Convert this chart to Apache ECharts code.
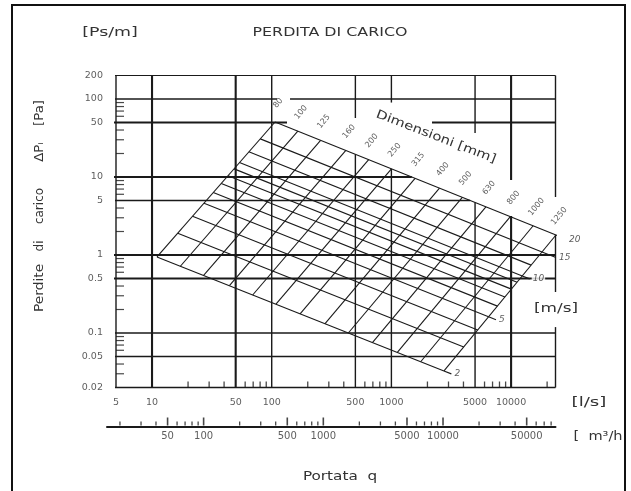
<!DOCTYPE html>
<html><head><meta charset="utf-8">
<script src="https://cdn.jsdelivr.net/npm/echarts@6/dist/echarts.min.js"></script>
<style>html,body{margin:0;padding:0;background:#fff}#c{width:631px;height:491px}</style>
</head><body><div id="c"></div>
<script>
// ---------------- data ----------------
const yTickLabels = [200, 100, 50, 10, 5, 1, 0.5, 0.1, 0.05, 0.02];
const yMinorTicks = [90, 80, 70, 60, 40, 30, 20, 9, 8, 7, 6, 4, 3, 2, 0.9, 0.8, 0.7, 0.6, 0.4, 0.3, 0.2, 0.09, 0.08, 0.07, 0.06, 0.04, 0.03];
const lsTickLabels = [5, 10, 50, 100, 500, 1000, 5000, 10000];
const lsMinorTicks = [20, 30, 40, 60, 70, 80, 90, 200, 300, 400, 600, 700, 800, 900, 2000, 3000, 4000, 6000, 7000, 8000, 9000, 20000];
const m3hTickLabels = [50, 100, 500, 1000, 5000, 10000, 50000];
const m3hMinorTicks = [20, 30, 40, 60, 70, 80, 90, 200, 300, 400, 600, 700, 800, 900, 2000, 3000, 4000, 6000, 7000, 8000, 9000, 20000, 30000, 40000, 60000, 70000, 80000];

// velocity lines [m/s]: ends on the 80 mm line (left) and on the 1250 mm line (right)
const velocities = [2, 3, 4, 5, 6, 7, 8, 9, 10, 12, 15, 20];
const velLeftQ  = [11.0, 16.4, 21.8, 27.2, 32.5, 37.9, 43.2, 48.5, 53.8, 64.4, 80.3, 106.6];
const velLeftR  = [0.943, 1.90, 3.13, 4.60, 6.31, 8.24, 10.4, 12.7, 15.3, 21.0, 30.8, 50.7];
const velRightQ = [2750, 4020, 5260, 6480, 7690, 8880, 10060, 11230, 12400, 14710, 18130, 23710];
const velRightR = [0.0326, 0.0660, 0.109, 0.161, 0.221, 0.289, 0.365, 0.448, 0.539, 0.741, 1.093, 1.805];
// labelled velocities and the end of their leaders
const velLabels = [2, 5, 10, 15, 20];
const velLabelQ = [3170, 7480, 14290, 23700, 28770];
const velLabelR = [0.0299, 0.1475, 0.494, 0.926, 1.58];

// duct diameters [mm]: ends on the 2 m/s line (bottom) and on the 20 m/s line (top)
const diameters  = [80, 100, 125, 160, 200, 250, 315, 400, 500, 630, 800, 1000, 1250];
const diaBottomQ = [11.0, 17.24, 26.97, 44.3, 69.3, 108.5, 172.6, 278.9, 436.5, 694.0, 1121, 1756, 2750];
const diaBottomR = [0.943, 0.717, 0.546, 0.404, 0.307, 0.234, 0.176, 0.1315, 0.100, 0.0754, 0.0563, 0.0428, 0.0326];
const diaTopQ    = [106.6, 165.3, 256.2, 416.4, 645.7, 1001, 1577, 2522, 3912, 6160, 9854, 15290, 23710];
const diaTopR    = [50.7, 38.7, 29.5, 21.9, 16.7, 12.7, 9.61, 7.19, 5.49, 4.15, 3.10, 2.37, 1.805];

// horizontal grid segments: [R, q from, q to]
const hGrid = [
  [200, 4.21, 23500],
  [100, 4.21, 110.7], [100, 142.2, 23500],
  [50, 4.21, 134.2], [50, 2184, 23500],
  [10, 4.21, 1480],
  [5, 4.21, 4550],
  [1, 4.21, 23500],
  [0.5, 4.21, 23500],
  [0.1, 4.21, 23500],
  [0.05, 4.21, 23500],
  [0.02, 4.21, 23500]
];
// vertical grid segments: [q, R from, R to]
const vGrid = [
  [5, 0.02, 200],
  [10, 0.02, 200],
  [50, 0.02, 200],
  [100, 0.02, 200],
  [500, 57, 200], [500, 0.02, 19.5],
  [1000, 90, 200], [1000, 0.02, 12.7],
  [5000, 36.6, 200], [5000, 0.02, 4.72],
  [10000, 9.15, 200], [10000, 0.02, 3.16],
  [23500, 5.54, 200], [23500, 0.335, 1.805], [23500, 0.02, 0.119]
];
const hBold = [50, 10, 1, 0.5];
const vBold = [10, 50, 10000];

// ---------------- chart ----------------
const FONT = 'DejaVu Sans';
const INK = '#1a1a1a';
const TXT = '#333';
const series = [];
function seg(pts, w, z) {
  series.push({type: 'line', data: pts, symbol: 'none', clip: false, silent: true,
    xAxisIndex: 0, yAxisIndex: 0, z: z,
    lineStyle: {width: w, color: INK}});
}
hGrid.forEach(h => {
  const w = hBold.includes(h[0]) ? 2.1 : (h[0] === 200 ? 1.0 : 1.4);
  seg([[h[1], h[0]], [h[2], h[0]]], w, 1);
});
vGrid.forEach(v => {
  const w = vBold.includes(v[0]) ? 2.1 : 1.4;
  seg([[v[0], v[1]], [v[0], v[2]]], w, 1);
});
velocities.forEach((v, i) => seg([[velLeftQ[i], velLeftR[i]], [velRightQ[i], velRightR[i]]], 1.1, 2));
diameters.forEach((d, i) => seg([[diaBottomQ[i], diaBottomR[i]], [diaTopQ[i], diaTopR[i]]], 1.1, 2));
velLabels.forEach((v, k) => {
  const i = velocities.indexOf(v);
  seg([[velRightQ[i], velRightR[i]], [velLabelQ[k], velLabelR[k]]], 1.1, 2);
});

function tickSeries(data, size, offset, xi, yi) {
  series.push({type: 'scatter', xAxisIndex: xi, yAxisIndex: yi, data: data, symbol: 'rect',
    symbolSize: size, symbolOffset: offset, silent: true, clip: false, z: 3,
    itemStyle: {color: INK}});
}
tickSeries(yMinorTicks.map(v => [5, v]), [8, 1.2], [4, 0], 0, 0);
tickSeries(lsMinorTicks.map(q => [q, 0.02]), [1.3, 6], [0, -3], 0, 0);
tickSeries(m3hMinorTicks.map(q => [q, 0]), [1.3, 4], [0, -3], 1, 1);
tickSeries(m3hTickLabels.map(q => [q, 0]), [1.6, 8], [0, -5], 1, 1);

function labelSeries(data, label, xi, yi) {
  series.push({type: 'scatter', xAxisIndex: xi, yAxisIndex: yi, data: data, symbolSize: 0.1,
    silent: true, clip: false, z: 5, itemStyle: {color: 'rgba(0,0,0,0)'},
    label: Object.assign({show: true, formatter: '{b}', color: TXT, fontFamily: FONT}, label)});
}
labelSeries(yTickLabels.map(v => ({value: [5, v], name: String(v)})),
  {position: 'left', distance: 13, fontSize: 9.5}, 0, 0);
labelSeries(lsTickLabels.map(q => ({value: [q, 0.02], name: String(q)})),
  {position: 'bottom', distance: 10, fontSize: 9.5}, 0, 0);
labelSeries(m3hTickLabels.map(q => ({value: [q, 0], name: String(q)})),
  {position: 'bottom', distance: 5, fontSize: 10}, 1, 1);
labelSeries(diameters.map((d, i) => ({value: [diaTopQ[i], diaTopR[i]], name: String(d)})),
  {position: 'top', distance: 15, rotate: 50, align: 'center', verticalAlign: 'middle', offset: [5, 0], fontSize: 8}, 0, 0);
labelSeries(velLabels.map((v, k) => ({value: [velLabelQ[k], velLabelR[k]], name: String(v)})),
  {position: 'right', distance: 2, fontSize: 9, fontStyle: 'italic', backgroundColor: '#fff', padding: [0, 1]}, 0, 0);

function txt(s, x, y, size, sx, rot) {
  return {type: 'text', x: x, y: y, rotation: rot || 0, scaleX: sx || 1, silent: true, z: 10,
    style: {text: s, fontSize: size, fontFamily: FONT, fill: TXT,
      align: 'center', verticalAlign: 'middle', textAlign: 'center', textVerticalAlign: 'middle'}};
}

const chart = echarts.init(document.getElementById('c'), null, {renderer: 'canvas'});
chart.setOption({
  animation: false,
  backgroundColor: '#fff',
  grid: [
    {left: 116, top: 75.5, width: 439.5, height: 312},
    {left: 107, top: 410, width: 448.5, height: 16.5}
  ],
  xAxis: [
    {type: 'log', gridIndex: 0, min: 5, max: 23500, show: false},
    {type: 'log', gridIndex: 1, min: 15.59, max: 87030,
      axisLine: {show: true, lineStyle: {color: INK, width: 2}},
      axisTick: {show: false}, axisLabel: {show: false}, splitLine: {show: false}}
  ],
  yAxis: [
    {type: 'log', gridIndex: 0, min: 0.02, max: 200, show: false},
    {type: 'value', gridIndex: 1, min: 0, max: 1, show: false}
  ],
  series: series,
  graphic: [
    {type: 'rect', silent: true, z: 10, shape: {x: 12, y: 5, width: 613, height: 520},
      style: {fill: 'none', stroke: '#111', lineWidth: 2}},
    txt('[Ps/m]', 110, 33, 13, 1.34),
    txt('PERDITA DI CARICO', 330, 33, 13, 1.22),
    txt('[Pa]', 40, 113, 12, 1.1, Math.PI / 2),
    txt('ΔPᵢ', 40, 152, 12, 1.1, Math.PI / 2),
    txt('carico', 40, 206, 12, 1.0, Math.PI / 2),
    txt('di', 40, 246, 12, 1.0, Math.PI / 2),
    txt('Perdite', 40, 288, 12, 1.15, Math.PI / 2),
    txt('Dimensioni [mm]', 436, 137, 12, 1.23, -0.367),
    txt('[m/s]', 556, 309, 13, 1.3),
    txt('[l/s]', 589, 403, 13, 1.4),
    txt('[  m³/h', 598, 437, 13, 1.12),
    txt('Portata  q', 340, 477, 12, 1.27)
  ]
});
</script>
</body></html>
